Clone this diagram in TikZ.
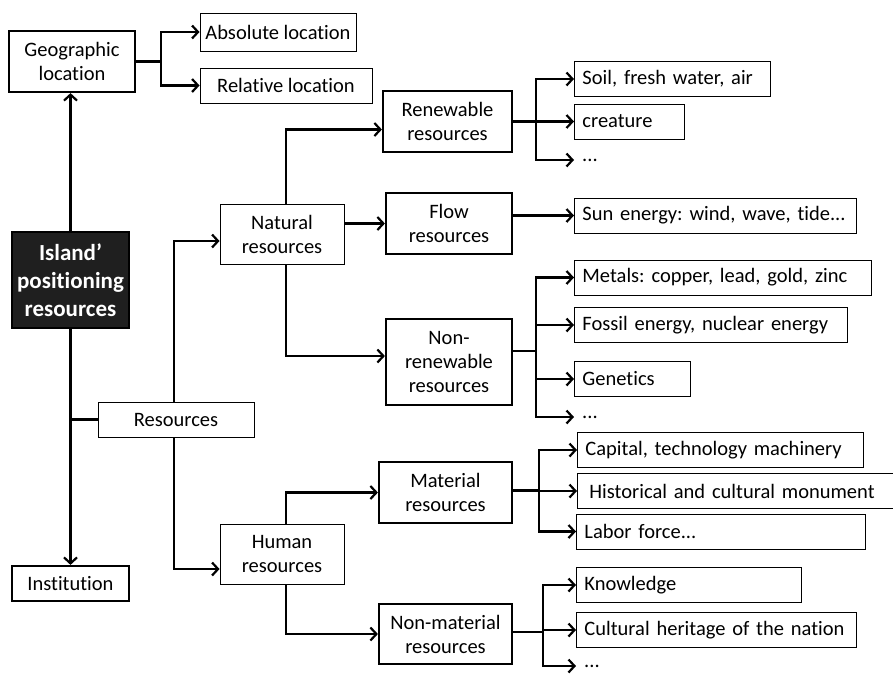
\documentclass[tikz,border=0pt]{standalone}
\usepackage{fontspec}
\setmainfont{Carlito}[Ligatures={NoCommon}]
\usetikzlibrary{positioning}
\usetikzlibrary{arrows.meta}
\frenchspacing

\tikzset{
    bigbox/.style={draw, line width=2.2pt, align=center, inner sep=0pt},
    smallbox/.style={draw, line width=0.9pt, align=center, inner sep=0pt},
    leaf/.style={draw, line width=0.9pt, anchor=west, align=left, inner xsep=8pt,
        inner ysep=0pt, minimum height=35pt, text width=#1},
    dotsnode/.style={anchor=west, inner xsep=8pt, inner ysep=0pt},
    link/.style={line width=2.2pt},
    arrow/.style={link, -{Straight Barb[length=6pt,width=13pt]}},
}

\begin{document}
\begin{tikzpicture}[x=1pt, y=-1pt, font=\fontsize{20.5}{24}\selectfont]
        \useasboundingbox (0,0) rectangle (893,673);

        \node[bigbox, minimum width=126pt, minimum height=61pt] (geo) at (72,61.5) {Geographic\\location};
        \node[smallbox, minimum width=156pt, minimum height=38pt] (absloc) at (278,32) {Absolute location};
        \node[smallbox, minimum width=172pt, minimum height=35pt] (relloc) at (286,85.5) {Relative location};
        \node[bigbox, fill=black!88, text=white, font=\bfseries\fontsize{23}{28}\selectfont,
            minimum width=117pt, minimum height=96pt] (island) at (70.5,280) {Island’\\positioning\\resources};
        \node[bigbox, minimum width=117pt, minimum height=35pt] (inst) at (70.5,583.5) {Institution};
        \node[smallbox, minimum width=156pt, minimum height=35pt] (res) at (176,419.5) {Resources};
        \node[smallbox, minimum width=124pt, minimum height=60pt] (natural) at (282,234) {Natural\\resources};
        \node[smallbox, minimum width=124pt, minimum height=60pt] (human) at (282,554) {Human\\resources};

        \node[bigbox, minimum width=129pt, minimum height=61pt] (renew) at (447.5,121.5) {Renewable\\resources};
        \node[bigbox, minimum width=126pt, minimum height=61pt] (flow) at (449,223.5) {Flow\\resources};
        \node[bigbox, minimum width=126pt, minimum height=86pt] (nonrenew) at (449,362) {Non-\\renewable\\resources};
        \node[bigbox, minimum width=133pt, minimum height=61pt] (material) at (445.5,492.5) {Material\\resources};
        \node[bigbox, minimum width=133pt, minimum height=60pt] (nonmaterial) at (445.5,634) {Non-material\\resources};

        \node[leaf=180pt] (soil) at (574,79) {Soil, fresh water, air};
        \node[leaf=94pt] (creature) at (574,121.5) {creature};
        \node[dotsnode] (dotsA) at (574,160) {...};
        \node[leaf=266pt] (sun) at (574,215.5) {Sun energy: wind, wave, tide...};
        \node[leaf=281pt] (metals) at (574,277.5) {Metals: copper, lead, gold, zinc};
        \node[leaf=257pt] (fossil) at (574,325) {Fossil energy, nuclear energy};
        \node[leaf=100pt] (genetics) at (574,379) {Genetics};
        \node[dotsnode] (dotsB) at (574,417) {...};
        \node[leaf=270pt] (capital) at (577,450) {Capital, technology machinery};
        \node[leaf=304pt] (historic) at (577,491) {\hspace{4pt}Historical and cultural monument};
        \node[leaf=273pt] (labor) at (576,531.5) {Labor force...};
        \node[leaf=209pt] (knowledge) at (576,585) {Knowledge};
        \node[leaf=264pt] (heritage) at (576,630) {Cultural heritage of the nation};
        \node[dotsnode] (dotsC) at (576,666) {...};

        \draw[arrow] (island.north) -- (island.north |- geo.south);
        \draw[arrow] (island.south) -- (island.south |- inst.north);
        \draw[link] (res.west) -- (res.west -| island.south);

        \coordinate (geofork) at ([xshift=25pt]geo.east);
        \draw[arrow] (geo.east) -- (geofork) |- (absloc.west);
        \draw[arrow] (geofork) |- (relloc.west);

        \draw[arrow] ([xshift=-2pt]res.north) |- ([yshift=-7pt]natural.west);
        \draw[arrow] ([xshift=-2pt]res.south) |- ([yshift=-15pt]human.west);

        \draw[arrow] ([xshift=4pt]natural.north) |- ([yshift=-8pt]renew.west);
        \draw[arrow] (natural.east |- flow.west) -- (flow.west);
        \draw[arrow] ([xshift=4pt]natural.south) |- ([yshift=6pt]nonrenew.west);
        \draw[arrow] ([xshift=4pt]human.north) |- (material.west);
        \draw[arrow] ([xshift=4pt]human.south) |- (nonmaterial.west);

        \coordinate (renfork) at ([xshift=23pt]renew.east);
        \draw[arrow] (renew.east) -- (renfork) |- (soil.west);
        \draw[arrow] (renfork) |- (creature.west);
        \draw[arrow] (renfork) |- (dotsA.west);

        \draw[arrow] (flow.east |- sun.west) -- (sun.west);

        \coordinate (nonrenfork) at ([xshift=23pt, yshift=11pt]nonrenew.east);
        \draw[arrow] ([yshift=11pt]nonrenew.east) -- (nonrenfork) |- (metals.west);
        \draw[arrow] (nonrenfork) |- (fossil.west);
        \draw[arrow] (nonrenfork) |- (genetics.west);
        \draw[arrow] (nonrenfork) |- (dotsB.west);

        \coordinate (matfork) at ([xshift=26pt, yshift=2pt]material.east);
        \draw[arrow] ([yshift=2pt]material.east) -- (matfork) |- (capital.west);
        \draw[arrow] (matfork) |- (historic.west);
        \draw[arrow] (matfork) |- (labor.west);

        \coordinate (nonmatfork) at ([xshift=30pt, yshift=2pt]nonmaterial.east);
        \draw[arrow] ([yshift=2pt]nonmaterial.east) -- (nonmatfork) |- (knowledge.west);
        \draw[arrow] (nonmatfork) |- (heritage.west);
        \draw[arrow] (nonmatfork) |- (dotsC.west);
    \end{tikzpicture}
\end{document}
